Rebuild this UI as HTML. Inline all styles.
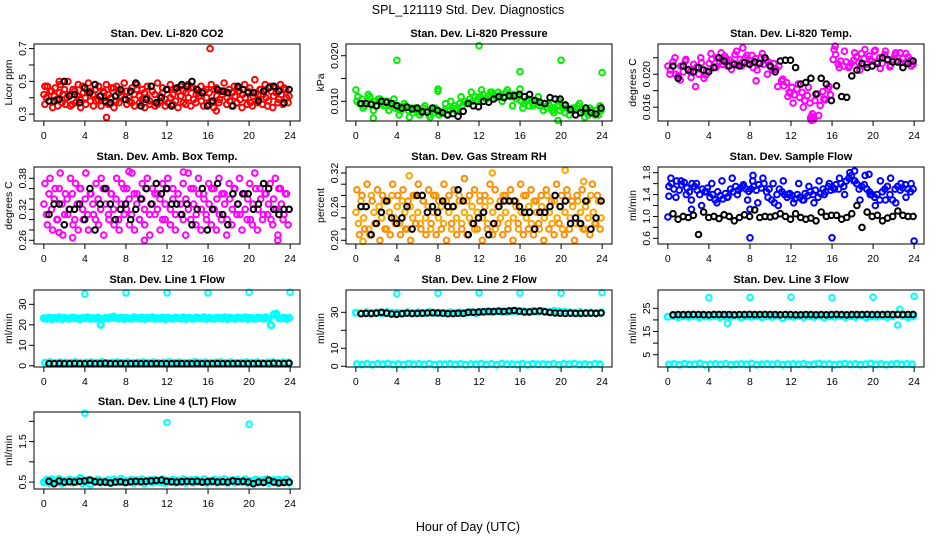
<!DOCTYPE html>
<html><head><meta charset="utf-8"><style>
body{margin:0;background:#fff;}
svg{display:block;font-family:"Liberation Sans",sans-serif;}
</style></head><body>
<svg id="chart" width="936" height="540" viewBox="0 0 936 540" xmlns="http://www.w3.org/2000/svg">
<rect width="936" height="540" fill="#fff"/>
<text x="468" y="14" font-size="12.5" text-anchor="middle">SPL_121119  Std. Dev. Diagnostics</text>
<text x="468" y="531" font-size="12.5" text-anchor="middle">Hour of Day (UTC)</text>
</svg>
<script>
// ---------- DATA ----------
const xTicks=[0,4,8,12,16,20,24];
const co2Main=[42,40,38,44,41,39,43,37,45,40,42,36,44,41,39,47,40,43,38,42,45,39,41,44,37,42,40,46,38,43,41,39,44,40,37,42,45,41,39,43,40,38,44,42,36,41,43,39,45,40,42,38,44,41,37,43,40,46,39,42,41,38,44,40,43,37,45,41,39,42,44,40,38,43,41,46,39,42,40,44,37,41,43,39,45,42,40,38,44,41,43,39,42,46,40,41];
const co2Spread=[36,47,44,34,46,35,48,42,36,50,35,45,37,48,34,43,36,49,44,35,38,47,35,43,48,36,46,34,47,37,44,49,36,38,46,35,48,37,45,34,47,36,44,35,49,38,46,35,37,48,36,45,34,47,44,36,48,35,46,37,43,47,35,45,36,48,34,46,37,44,49,36,45,35,47,37,44,34,48,36,46,35,51,37,45,36,48,35,47,34,46,37,48,36,45,37];
const co2Black=[38,38,39,50,41,42,37,46,43,48,41,38,37,41,45,39,44,49,35,39,47,37,40,45,35,46,48,47,50,45,43,35,38,45,44,43,35,47,45,43,43,38,44,46,47,44,37,45];
const co2OutT=[16.2,6.1,16.8,0.1,1.5];
const co2OutV=[70,28,32,47,50];

const presMain=[10,9.5,10.5,9,10,11,9.5,10,9,10.5,9.5,10,10,9,9.5,8.5,9,8,8.5,9,8,8.5,7.5,8,8,7.5,8.5,8,7,8,7.5,8,7,7.5,8,7,8,8.5,9,8.5,9.5,9,10,9.5,10.5,10,11,10.5,11,11.5,10.5,11,12,11.5,11,12,11.5,11,12,11.5,11,11.5,10.5,11,10,9.5,10,9,10,9.5,10,9,9,9.5,8.5,9,8,8.5,9,8,8.5,7.5,8.5,8,8.5,8,9,7.5,8,8.5,7,8,7.5,8,7,8];
const presSpread=[11,8.5,11.5,8,10.5,9,8,10.5,7,9.5,6.5,8.5,7,9,6.5,8.5,7.5,9.5,10,8,11,9.5,12,10,12.5,10.5,12,11,10,12.5,9,11,8.5,10.5,9,11,8,9.5,7.5,10,9,7,8.5,9.5,6.5,8.5,7,9];
const presBlack=[9.5,9.5,9.3,9,10,9.8,9.5,9,8.5,8.7,8.3,8.5,7.7,7.6,8.5,8,7.5,7,7.3,6.7,7.8,9.5,9,8.8,10,9.8,10.5,11,10.8,11.2,11.2,11.5,11,11.5,10.2,9.8,9.5,10.8,10.5,10.5,9.2,8.2,7,7.5,8.5,7.5,7.2,8.5];
const presOutT=[4,12,16,20,24,0,8,8,1.7,19.7,16];
const presOutV=[19,22.2,16.5,19,16.3,12.5,12.7,12.2,6.3,5.8,12.7];

const tempMain=[21,20.5,21.5,20,19.8,21,20.3,21.8,20.6,19.6,21.2,20.8,20,21.4,19.5,20.4,21.3,21.8,20.9,22,21.5,21.2,22.2,21,21.7,21.4,22.4,21.1,21.8,21.5,22,21.3,21.6,20.8,21.9,21.4,22,21.2,21.7,21.5,20.9,21.3,20.6,21,19.2,18.6,19,17.8,18.4,17.5,18.2,17.2,17.8,16.8,17.4,16.5,15.2,16.8,17.6,16.2,17.9,16.9,18.2,17.5,21.8,22.4,21.2,21.6,21,21.5,20.8,21.3,21.7,22.1,21.4,22.5,21.9,21.2,22.2,21.6,22.8,21.5,22,21.3,22.4,21.7,20.9,21.8,22.3,21.5,22.6,21.9,21.4,22.1,21.7,21.2];
const tempSpread=[20,22,19.3,21.6,20.3,18.5,22,19.9,22.5,20.8,22.6,21.9,20.6,22.8,21,22.3,22.3,20.5,22.5,20,20.5,18.5,19.4,17.3,16.5,18.8,16,18.4,14.5,15,17,18.5,23,20.8,22.8,21,22.6,20.5,23,21.8,22.9,20.7,22.8,21.1,22.6,21.4,22.5,21];
const tempBlack=[21,19.5,21,20.5,20.3,20.8,20.5,20.3,20.8,22,21.6,21,21.2,21,21.4,21.2,21.5,21.3,22,21,20.3,21.6,21.7,21.7,20.8,18.8,19,19.5,17.6,19.5,18.8,16.8,18.6,17.3,17.2,19.8,20.5,21.3,20.8,21,21.3,22,21.8,21.5,21.5,20.8,21.3,21.6];
const tempOutT=[14,14.1,13.9,14,7.3,8.6,16.3,11.9];
const tempOutV=[14.4,14.6,14.7,14.9,23.2,19.2,23.4,17.7];

const ambMain=[33,31,35,32,34,30,36,33,31,34,32,35,30,33,36,32,34,31,35,33,30,34,32,36,33,31,35,32,34,30,33,36,32,34,31,35,33,30,34,32,36,31,33,35,32,34,30,33,36,32,34,31,35,33,30,34,32,36,33,31,35,32,34,30,33,36,32,34,31,35,33,30,34,32,36,33,31,35,32,34,30,33,36,32,34,31,35,33,30,34,32,36,33,31,35,32];
const ambSpread=[37,29,38,28,36,30,39,27,35,31,38,29,37,28,36,30,39,28,35,31,37,29,38,27,36,30,35,29,38,28,37,31,36,29,39,28,35,30,37,29,38,27,36,31,35,28,37,30,38,29,36,28,35,31,37,27,39,30,36,29,38,28,35,31,37,29,36,28,38,30,35,27,37,29,36,31,38,28,35,30,37,29,39,28,36,30,35,31,37,29,38,27,36,30,35,29];
const ambBlack=[31,33,33,29,32,32,33,30,36,28,33,36,33,30,32,33,30,32,34,36,33,37,35,36,33,33,31,33,29,32,36,28,32,37,31,29,35,33,35,35,32,33,37,36,32,31,32,32];
const ambOutT=[1.5,2.8,8.3,13.6,9.8,22.8];
const ambOutV=[27.5,26.5,39.3,39.2,26,26];

const rhMain=[25,23,27,24,26,22,28,25,23,26,24,27,22,25,28,24,26,23,27,25,22,26,24,28,25,23,27,24,26,22,25,28,24,26,23,27,25,22,26,24,28,23,25,27,24,26,22,25,28,24,26,23,27,25,22,26,24,28,25,23,27,24,26,22,25,28,24,26,23,27,25,22,26,24,28,25,23,27,24,26,22,25,28,24,26,23,27,25,22,26,24,28,25,23,27,24];
const rhSpread=[29,21,28,22,30,21,27,23,29,20,28,22,27,21,30,23,28,21,29,22,27,20,28,23,30,22,27,21,29,23,28,21,27,22,30,20,28,23,29,21,27,22,31,21,28,23,29,22,27,20,28,22,30,21,29,23,27,21,28,22,29,20,27,23,30,21,28,22,29,21,27,23,28,20,29,22,27,21,30,23,28,21,29,22,27,20,28,23,29,22,27,21,30,23,28,22];
const rhBlack=[26,26,21,23,25,27,24,23,24,26,22,28,28,25,26,25,27,26,26,29,27,21,23,24,25,21,23,26,27,27,27,26,25,25,22,25,25,26,28,26,27,23,24,23,27,22,24,27];
const rhOutT=[0.7,5.2,13.3,20.4,22.2];
const rhOutV=[19.8,31.5,32,32.5,30.5];

const sfMain=[155,160,150,165,148,158,162,152,145,160,155,148,140,150,145,152,135,140,130,145,138,132,142,136,150,145,155,148,152,158,150,146,150,155,148,158,152,160,145,150,130,125,140,150,145,140,135,142,138,132,140,135,130,142,138,145,140,148,135,142,150,145,155,148,152,158,150,160,155,165,170,175,165,160,150,155,158,150,145,140,135,140,130,145,150,155,140,130,150,155,148,152,158,150,145,150];
const sfSpread=[170,135,165,140,130,160,120,145,160,125,165,135,170,140,155,130,165,125,170,135,160,120,165,140,125,160,130,155,125,165,140,160,150,170,140,180,165,130,175,140,120,165,130,170,125,160,135,160];
const sfBlack=[105,95,100,98,102,67,108,98,100,96,103,100,92,98,103,100,112,98,100,99,101,105,100,95,105,98,95,97,92,108,100,102,102,95,98,105,120,80,108,100,102,92,97,100,110,102,100,100];
const sfOutT=[0,8,16,24,0.1,18.2,8.3,19.6,2.3,8];
const sfOutV=[99,61,61,55,137,183,175,177,113,113];

const l1Main=[23.2,23,23.5,22.8,23.3,23.1,23.6,22.9,23.4,23.2,23,23.5,23.3,23.1,22.8,23.4,23.2,23.6,23,23.3,23.1,23.5,20,22.9,23.4,23.2,23.6,24,23.3,23.1,23.5,22.9,23.4,23.2,23,23.6,23.3,23.1,23.5,22.9,23.4,23.2,23.6,23,23.3,23.1,23.5,22.8,23.4,23.2,23,23.5,23.3,23.1,23.6,22.9,23.4,23.2,23,23.5,23.3,23.1,23.6,22.9,23.4,23.2,23,23.5,23.3,23.1,23.6,22.9,23.4,23.2,23,23.5,23.3,23.1,23.6,22.9,23.4,23.2,23,23.5,23.3,23.1,23.6,22.9,19.8,25,25.5,23.3,23.1,23.5,22.9,23.4];
const l1Low=[1.5,1.8,1.4,1.7,1.6,1.5,1.8,1.4,1.6,1.7,1.5,1.9,1.4,1.6,1.8,1.5,1.7,1.4,1.6,1.8,1.5,1.7,1.4,1.6,1.8,1.5,1.7,1.4,1.6,1.9,1.5,1.7,1.4,1.6,1.8,1.5,1.7,1.4,1.6,1.8,1.5,1.7,1.4,1.6,1.8,1.5,1.7,1.6];
const l1Black=[1,1,1.1,1,1,1.1,1,1,1.1,1,1,1.2,1,1,1.1,1,1,1.1,1,1,1,1.1,1,1,1,1.1,1,1,1,1.1,1,1,1,1.1,1,1,1,1.1,1,1,1,1.1,1,1,1.2,1,1,1.2];
const l1OutT=[4,8,12,16,20,24];
const l1OutV=[35,35.6,35.6,35.6,35.9,35.9];

const l2Main=[29.8,29.5,30,29.6,29.9,29.4,30.1,29.7,29.8,29.5,30,29.6,29.9,29.5,30.1,29.7,29.8,29.6,30,29.5,29.9,29.7,30.1,29.6,30.2,30.4,30.1,30.5,30.3,30.2,30.6,30.4,30.5,30.3,30.7,30.4,30.6,30.3,30.8,30.5,30.2,30,29.8,30.1,29.7,29.9,29.6,30];
const l2Low=[1.2,1,1.4,0.9,1.3,1.1,1.5,1,1.2,0.9,1.4,1.1,1.3,1,1.5,0.9,1.2,1.1,1.4,1,1.3,0.9,1.2,1.1,1.4,1,1.3,0.9,1.5,1.1,1.2,1,1.4,0.9,1.3,1.1,1.2,1,1.4,0.9,1.3,1.1,1.5,1,1.2,0.9,1.3,1.1];
const l2Black=[29.2,29.4,29.3,29.5,30,29.5,29,28.9,29.2,29.5,29.3,29.4,29.5,29.6,29.7,29.6,29.5,29.2,29.3,29.5,29.4,30,30,30.1,30.3,30.5,30.4,30.6,30.5,30.8,31,30.6,30.2,30.2,30.5,30.8,30.3,29.9,29.6,29.5,29.4,29.5,29.4,29.4,29.5,29.5,29.4,29.6];
const l2OutT=[4,8,12,16,20,24];
const l2OutV=[40.3,40.6,40.8,40.7,40.6,40.9];

const l3Main=[21.4,21.7,21.2,21.6,21.3,21.8,21.1,21.5,21.4,21.7,21.2,21.6,21.3,21.8,21.1,21.5,21.4,21.7,21.2,21.6,21.3,21.8,20.8,21.5,21.4,21.7,21.2,21.6,21.3,21.8,21.1,21.5,21.4,21.7,21.2,21.6,21.3,21.8,21.1,21.5,21.4,21.7,21.2,21.6,22.6,21.8,21.1,21.5];
const l3Low=[0.8,1,0.7,1.1,0.8,0.9,1.2,0.7,0.9,1,0.8,1.1,0.7,0.9,1,0.8,1.2,0.7,0.9,1,0.8,1.1,0.7,0.9,1,0.8,1.1,0.7,0.9,1.2,0.8,1,0.7,0.9,1.1,0.8,1,0.7,0.9,1.2,0.8,1,0.7,0.9,1.1,0.8,1,0.9];
const l3Black=[22.2,22.3,22.3,22.3,22.4,22.3,22.3,22.2,22.4,22.3,22.3,22.3,22.2,22.3,22.3,22.4,22.3,22.3,22.4,22.3,22.3,22.2,22.3,22.3,22.2,22.2,22.3,22.3,22.2,22.3,22.2,22.3,22.4,22.3,22.2,22.3,22.3,22.3,22.4,22.3,22.3,22.3,22.4,22.3,22.3,22.3,22.3,22.4];
const l3OutT=[4,8,12,16,20,24,5.8,22.4,22.6];
const l3OutV=[29.6,29.7,29.8,29.6,29.8,30.2,18.5,17.8,24.6];

const l4Main=[0.5,0.55,0.48,0.57,0.52,0.5,0.58,0.47,0.53,0.5,0.56,0.49,0.54,0.51,0.6,0.47,0.52,0.55,0.44,0.53,0.5,0.56,0.49,0.52,0.5,0.55,0.48,0.56,0.51,0.5,0.58,0.49,0.53,0.5,0.56,0.48,0.54,0.51,0.57,0.47,0.52,0.55,0.49,0.56,0.51,0.5,0.57,0.48,0.53,0.5,0.56,0.49,0.54,0.51,0.57,0.48,0.52,0.55,0.49,0.56,0.51,0.5,0.57,0.48,0.53,0.5,0.56,0.49,0.54,0.51,0.57,0.48,0.52,0.55,0.49,0.56,0.51,0.5,0.57,0.48,0.53,0.5,0.56,0.49,0.54,0.51,0.57,0.48,0.52,0.55,0.49,0.56,0.51,0.5,0.57,0.48];
const l4Black=[0.52,0.46,0.53,0.5,0.51,0.5,0.52,0.53,0.55,0.51,0.5,0.5,0.48,0.5,0.51,0.49,0.51,0.52,0.51,0.52,0.53,0.54,0.55,0.52,0.51,0.5,0.51,0.52,0.51,0.52,0.5,0.51,0.52,0.5,0.51,0.5,0.53,0.51,0.52,0.5,0.46,0.5,0.49,0.55,0.5,0.48,0.49,0.5];
const l4OutT=[4,12,20,3.6];
const l4OutV=[2.2,1.97,1.93,0.6];

// ---------- LAYOUT / RENDER ----------
const NS='http://www.w3.org/2000/svg';
const svg=document.getElementById('chart');
const colX=[34,346,658], rowY=[44,167,290,412], PW=266, PH=77;
const XMIN=-0.96, XMAX=24.96;
function mk(tag,attrs,parent){const e=document.createElementNS(NS,tag);for(const k in attrs)e.setAttribute(k,attrs[k]);(parent||svg).appendChild(e);return e;}

function panel(p){
  const x0=colX[p.col], y0=rowY[p.row];
  const g=mk('g',{});
  
  
  const xs=t=>x0+(t-XMIN)/(XMAX-XMIN)*PW;
  const ys=v=>y0+PH-(v-p.ymin)/(p.ymax-p.ymin)*PH;
  const title=mk('text',{x:x0+PW/2,y:y0-7,'font-size':11,'font-weight':'bold','text-anchor':'middle'},g);
  title.textContent=p.title;
  
  
  p.series.forEach(s=>{
    const sg=mk('g',{fill:'none',stroke:s.color,'stroke-width':s.sw||2},g);
    
    
    s.vals.forEach((v,i)=>{
      const t=s.times?s.times[i]:(s.t0+i*(s.t1-s.t0)/Math.max(1,s.vals.length-1));
      const c=mk('circle',{cx:xs(t).toFixed(1),cy:ys(v*s.k).toFixed(1),r:2.8},sg);
      
      
    });
  });
  const box=mk('rect',{x:x0,y:y0,width:PW,height:PH,fill:'none',stroke:'#000','stroke-width':1},g);
  
  
  const xa=mk('g',{},g);
  
  
  mk('line',{x1:xs(xTicks[0]),x2:xs(xTicks[xTicks.length-1]),y1:y0+PH,y2:y0+PH,stroke:'#000'},xa);
  xTicks.forEach(t=>{
    mk('line',{x1:xs(t),x2:xs(t),y1:y0+PH,y2:y0+PH+5,stroke:'#000'},xa);
    const tx=mk('text',{x:xs(t),y:y0+PH+18,'font-size':10.5,'text-anchor':'middle'},xa);
    tx.textContent=t;
    
    
  });
  const ya=mk('g',{},g);
  
  
  mk('line',{x1:x0,x2:x0,y1:ys(p.yticks[0]),y2:ys(p.yticks[p.yticks.length-1]),stroke:'#000'},ya);
  p.yticks.forEach(v=>{
    mk('line',{x1:x0-5,x2:x0,y1:ys(v),y2:ys(v),stroke:'#000'},ya);
  });
  p.ylabels.forEach(v=>{
    const tx=mk('text',{transform:`translate(${x0-8},${ys(v)}) rotate(-90)`,'font-size':10.5,'text-anchor':'middle'},ya);
    tx.textContent=v.toFixed(p.dec);
    
    
  });
  const yt=mk('text',{transform:`translate(${x0-22},${y0+PH/2}) rotate(-90)`,'font-size':10.5,'text-anchor':'middle'},g);
  yt.textContent=p.ylab;
  
  
}
const B0=0.5,B1=23.9;
panel({name:'co2',col:0,row:0,title:'Stan. Dev. Li-820 CO2',ylab:'Licor ppm',ymin:0.258,ymax:0.728,yticks:[0.3,0.4,0.5,0.6,0.7],ylabels:[0.3,0.5,0.7],dec:1,series:[
  {label:'red-main',color:'#ff0000',vals:co2Main,k:0.01,t0:0,t1:23.9},
  {label:'red-spread',color:'#ff0000',vals:co2Spread,k:0.01,t0:0.1,t1:23.8},
  {label:'red-outliers',color:'#ff0000',vals:co2OutV,times:co2OutT,k:0.01},
  {label:'black',color:'#000',vals:co2Black,k:0.01,t0:B0,t1:B1}]});
panel({name:'pressure',col:1,row:0,title:'Stan. Dev. Li-820 Pressure',ylab:'kPa',ymin:0.00567,ymax:0.02257,yticks:[0.010,0.015,0.020],ylabels:[0.010,0.020],dec:3,series:[
  {label:'green-main',color:'#00ee00',vals:presMain,k:0.001,t0:0.1,t1:23.9},
  {label:'green-spread',color:'#00ee00',vals:presSpread,k:0.001,t0:0.2,t1:23.8},
  {label:'green-outliers',color:'#00ee00',vals:presOutV,times:presOutT,k:0.001},
  {label:'black',color:'#000',vals:presBlack,k:0.001,t0:B0,t1:B1}]});
panel({name:'temp',col:2,row:0,title:'Stan. Dev. Li-820 Temp.',ylab:'degrees C',ymin:0.01432,ymax:0.02367,yticks:[0.016,0.018,0.020,0.022],ylabels:[0.016,0.020],dec:3,series:[
  {label:'magenta-main',color:'#ff00ff',vals:tempMain,k:0.001,t0:0,t1:23.9},
  {label:'magenta-spread',color:'#ff00ff',vals:tempSpread,k:0.001,t0:0.2,t1:23.7},
  {label:'magenta-outliers',color:'#ff00ff',vals:tempOutV,times:tempOutT,k:0.001},
  {label:'black',color:'#000',vals:tempBlack,k:0.001,t0:B0,t1:B1}]});
panel({name:'amb-temp',col:0,row:1,title:'Stan. Dev. Amb. Box Temp.',ylab:'degrees C',ymin:0.2528,ymax:0.4019,yticks:[0.26,0.28,0.30,0.32,0.34,0.36,0.38],ylabels:[0.26,0.32,0.38],dec:2,series:[
  {label:'magenta-main',color:'#ff00ff',vals:ambMain,k:0.01,t0:0,t1:23.9},
  {label:'magenta-spread',color:'#ff00ff',vals:ambSpread,k:0.01,t0:0.1,t1:23.8},
  {label:'magenta-outliers',color:'#ff00ff',vals:ambOutV,times:ambOutT,k:0.01},
  {label:'black',color:'#000',vals:ambBlack,k:0.01,t0:B0,t1:B1}]});
panel({name:'rh',col:1,row:1,title:'Stan. Dev. Gas Stream RH',ylab:'percent',ymin:0.1934,ymax:0.3307,yticks:[0.20,0.22,0.24,0.26,0.28,0.30,0.32],ylabels:[0.20,0.26,0.32],dec:2,series:[
  {label:'orange-main',color:'#ffa500',vals:rhMain,k:0.01,t0:0,t1:23.9},
  {label:'orange-spread',color:'#ff8c00',vals:rhSpread,k:0.01,t0:0.1,t1:23.8},
  {label:'orange-outliers',color:'#ffa500',vals:rhOutV,times:rhOutT,k:0.01},
  {label:'black',color:'#000',vals:rhBlack,k:0.01,t0:B0,t1:B1}]});
panel({name:'sample-flow',col:2,row:1,title:'Stan. Dev. Sample Flow',ylab:'ml/min',ymin:0.496,ymax:1.904,yticks:[0.6,0.8,1.0,1.2,1.4,1.6,1.8],ylabels:[0.6,1.0,1.4,1.8],dec:1,series:[
  {label:'blue-main',color:'#0000ff',vals:sfMain,k:0.01,t0:0.1,t1:23.9},
  {label:'blue-spread',color:'#0000ff',vals:sfSpread,k:0.01,t0:0.3,t1:23.7},
  {label:'blue-outliers',color:'#0000ff',vals:sfOutV,times:sfOutT,k:0.01},
  {label:'black',color:'#000',vals:sfBlack,k:0.01,t0:B0,t1:B1}]});
panel({name:'line1-flow',col:0,row:2,title:'Stan. Dev. Line 1 Flow',ylab:'ml/min',ymin:-0.6,ymax:37,yticks:[0,10,20,30],ylabels:[0,10,20,30],dec:0,series:[
  {label:'cyan-main',color:'#00ffff',vals:l1Main,k:1,t0:0,t1:23.9,sw:2.6},
  {label:'cyan-low',color:'#00ffff',vals:l1Low,k:1,t0:0.1,t1:23.8,sw:2.4},
  {label:'cyan-outliers',color:'#00ffff',vals:l1OutV,times:l1OutT,k:1},
  {label:'black',color:'#000',vals:l1Black,k:1,t0:B0,t1:B1}]});
panel({name:'line2-flow',col:1,row:2,title:'Stan. Dev. Line 2 Flow',ylab:'ml/min',ymin:-0.4,ymax:42.4,yticks:[0,10,20,30],ylabels:[0,10,30],dec:0,series:[
  {label:'cyan-main',color:'#00ffff',vals:l2Main,k:1,t0:0,t1:23.9,sw:2.6},
  {label:'cyan-low',color:'#00ffff',vals:l2Low,k:1,t0:0.1,t1:23.8,sw:2.4},
  {label:'cyan-outliers',color:'#00ffff',vals:l2OutV,times:l2OutT,k:1},
  {label:'black',color:'#000',vals:l2Black,k:1,t0:B0,t1:B1}]});
panel({name:'line3-flow',col:2,row:2,title:'Stan. Dev. Line 3 Flow',ylab:'ml/min',ymin:-0.3,ymax:32.9,yticks:[5,10,15,20,25],ylabels:[5,15,25],dec:0,series:[
  {label:'cyan-main',color:'#00ffff',vals:l3Main,k:1,t0:0,t1:23.9,sw:2.6},
  {label:'cyan-low',color:'#00ffff',vals:l3Low,k:1,t0:0.1,t1:23.8,sw:2.4},
  {label:'cyan-outliers',color:'#00ffff',vals:l3OutV,times:l3OutT,k:1},
  {label:'black',color:'#000',vals:l3Black,k:1,t0:B0,t1:B1}]});
panel({name:'line4-flow',col:0,row:3,title:'Stan. Dev. Line 4 (LT) Flow',ylab:'ml/min',ymin:0.33,ymax:2.23,yticks:[0.5,1.0,1.5,2.0],ylabels:[0.5,1.5],dec:1,series:[
  {label:'cyan-main',color:'#00ffff',vals:l4Main,k:1,t0:0,t1:23.9,sw:2.6},
  {label:'cyan-outliers',color:'#00ffff',vals:l4OutV,times:l4OutT,k:1},
  {label:'black',color:'#000',vals:l4Black,k:1,t0:B0,t1:B1}]});
</script>
</body></html>
